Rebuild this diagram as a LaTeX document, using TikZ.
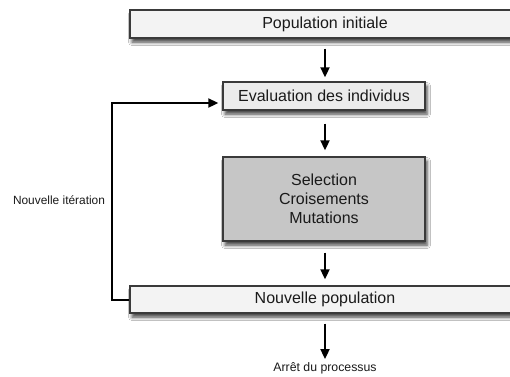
\documentclass[tikz,border=0pt]{standalone}
\usepackage{fontspec}
\setmainfont{Liberation Sans}
\usetikzlibrary{arrows.meta,shadows.blur,calc}
\definecolor{boxline}{HTML}{3A3A3A}
\definecolor{lightfill}{HTML}{F3F3F3}
\definecolor{evalfill}{HTML}{ECECEC}
\definecolor{midfill}{HTML}{C6C6C6}
\definecolor{txt}{HTML}{1A1A1A}
\tikzset{
  procbox/.style={draw=boxline, line width=1.4pt, text=txt, inner sep=0pt,
    font=\fontsize{16}{19}\selectfont, align=center,
    blur shadow={shadow xshift=2pt, shadow yshift=-4pt, shadow blur radius=3.5pt, shadow opacity=75}},
  arr/.style={line width=2pt, draw=black, -{Triangle[length=10pt,width=9pt]}},
  small/.style={text=txt, font=\fontsize{11.9}{14}\selectfont, inner sep=0pt}
}
\begin{document}
\begin{tikzpicture}[x=1pt,y=-1pt]
\useasboundingbox[fill=white] (0,0) rectangle (510,376);
\begin{scope}
\clip (0,0) rectangle (510,376);
\node[procbox, fill=lightfill, minimum width=390pt, minimum height=28pt] (pop) at (325,24) {Population initiale};
\node[procbox, fill=evalfill, minimum width=202pt, minimum height=28pt] (eval) at (324,96) {Evaluation des individus};
\node[procbox, fill=midfill, minimum width=202pt, minimum height=84pt] (gen) at (324,199) {Selection\\Croisements\\Mutations};
\node[procbox, fill=lightfill, minimum width=390pt, minimum height=27pt] (np) at (325,299.5) {Nouvelle population};
\node[small, font=\fontsize{12.3}{14}\selectfont] (stop) at (325,368) {Arrêt du processus};
\node[small] (iter) at (59,200) {Nouvelle itération};
\coordinate (loopx) at (112,300);

\draw[arr, shorten <=10pt, shorten >=4pt] (pop.south -| 325,0) -- (eval.north -| 325,0);
\draw[arr, shorten <=13pt, shorten >=6pt] (eval.south -| 325,0) -- (gen.north -| 325,0);
\draw[arr, shorten <=11pt, shorten >=6pt] (gen.south -| 325,0) -- (np.north -| 325,0);
\draw[arr, shorten <=10pt, shorten >=3pt] (np.south -| 325,0) -- (stop.north -| 325,0);
\draw[arr, shorten >=4pt] (np.west) -- (np.west -| loopx) |- ([yshift=-7pt]eval.west);
\end{scope}
\end{tikzpicture}
\end{document}
